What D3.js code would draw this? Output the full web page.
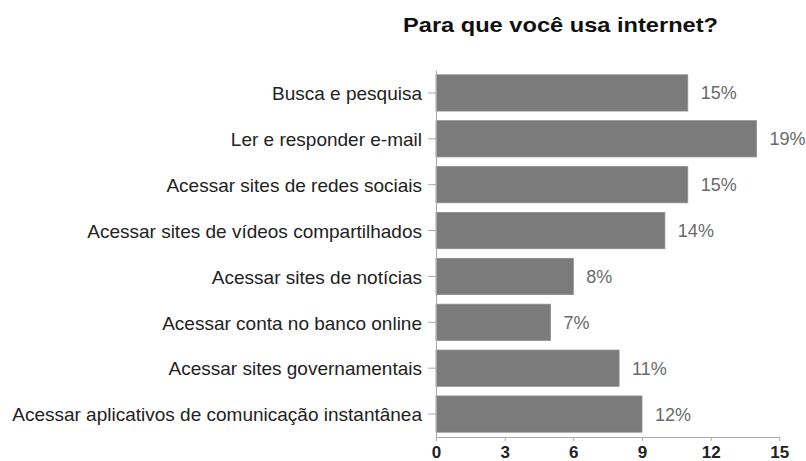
<!DOCTYPE html>
<html>
<head>
<meta charset="utf-8">
<script src="https://cdn.jsdelivr.net/npm/d3@7"></script>
<style>
  html, body { margin: 0; padding: 0; background: #fff; }
  svg { display: block; font-family: "Liberation Sans", Arial, sans-serif; }
</style>
</head>
<body>
<svg id="chart" width="806" height="461"></svg>
<script>
const title = "Para que você usa internet?";
const categories = [
  "Busca e pesquisa",
  "Ler e responder e-mail",
  "Acessar sites de redes sociais",
  "Acessar sites de vídeos compartilhados",
  "Acessar sites de notícias",
  "Acessar conta no banco online",
  "Acessar sites governamentais",
  "Acessar aplicativos de comunicação instantânea"
];
const barValues = [11, 14, 11, 10, 6, 5, 8, 9];
const valueLabels = ["15%", "19%", "15%", "14%", "8%", "7%", "11%", "12%"];
const xTicks = [0, 3, 6, 9, 12, 15];

const svg = d3.select("#chart");
const plotLeft = 436, plotRight = 779.3, plotTop = 70, plotBottom = 437;

const x = d3.scaleLinear().domain([0, 15]).range([plotLeft, plotRight]);
const y = d3.scaleBand().domain(categories).range([plotTop, plotBottom])
  .paddingInner(0.21).paddingOuter(0.105);

// title
svg.append("text")
  .attr("x", 560.5).attr("y", 31.7)
  .attr("text-anchor", "middle")
  .attr("font-size", 20.5).attr("font-weight", "bold")
  .attr("fill", "#111")
  .attr("textLength", 315).attr("lengthAdjust", "spacingAndGlyphs")
  .text(title);

// bars
svg.append("g").selectAll("rect")
  .data(categories)
  .join("rect")
  .attr("x", x(0))
  .attr("y", d => y(d))
  .attr("width", (d, i) => x(barValues[i]) - x(0))
  .attr("height", y.bandwidth())
  .attr("fill", "#7b7b7b")
  .attr("stroke", "#8c8c8c")
  .attr("stroke-width", 0.8);

// value labels
svg.append("g").selectAll("text")
  .data(categories)
  .join("text")
  .attr("x", (d, i) => x(barValues[i]) + 13)
  .attr("y", d => y(d) + y.bandwidth() / 2)
  .attr("dy", "0.36em")
  .attr("font-size", 18)
  .attr("fill", "#6a6a6a")
  .text((d, i) => valueLabels[i]);

// y axis
const yAxis = svg.append("g")
  .attr("transform", `translate(${plotLeft},0)`)
  .call(d3.axisLeft(y).tickSize(8).tickPadding(6).tickSizeOuter(0));
yAxis.select(".domain").attr("stroke", "#aaa");
yAxis.selectAll(".tick line").attr("stroke", "#aaa");
yAxis.selectAll(".tick text")
  .attr("font-size", 19).attr("fill", "#222")
  .attr("font-family", "'Liberation Sans', Arial, sans-serif")
  .attr("dy", "0.38em");

// x axis
const xAxis = svg.append("g")
  .attr("transform", `translate(0,${plotBottom})`)
  .call(d3.axisBottom(x).tickValues(xTicks).tickSize(4).tickPadding(5).tickSizeOuter(0));
xAxis.select(".domain").attr("stroke", "#aaa");
xAxis.selectAll(".tick line").attr("stroke", "#aaa");
xAxis.selectAll(".tick text")
  .attr("font-size", 17).attr("font-weight", "bold").attr("fill", "#222")
  .attr("font-family", "'Liberation Sans', Arial, sans-serif");
</script>
</body>
</html>
